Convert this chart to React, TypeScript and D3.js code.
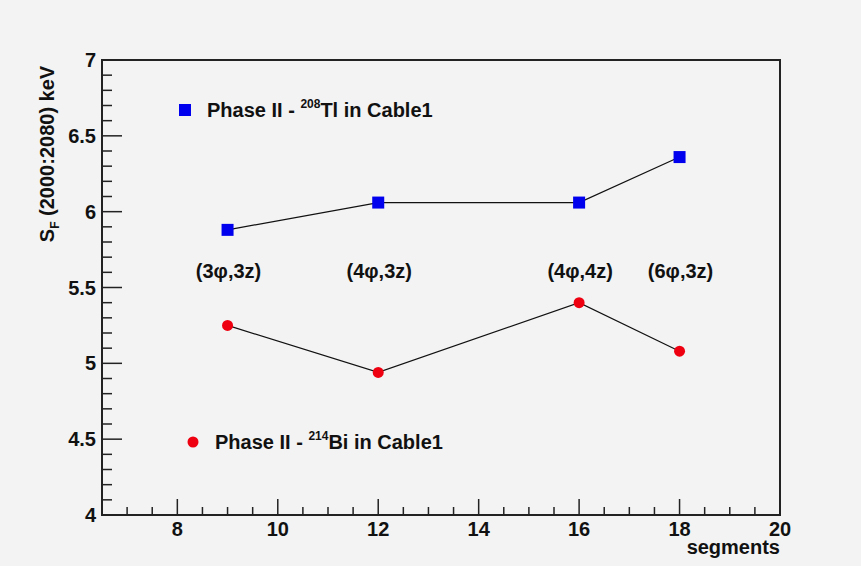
import React, { useRef, useEffect } from "react";
import * as d3 from "d3";

const segments = [9, 12, 16, 18];
const tlValues = [5.88, 6.06, 6.06, 6.36];
const biValues = [5.25, 4.94, 5.4, 5.08];
const configLabels = ["(3φ,3z)", "(4φ,3z)", "(4φ,4z)", "(6φ,3z)"];
const labelLevel = 5.6;
const xTicks = [8, 10, 12, 14, 16, 18, 20];
const yTicks = [4, 4.5, 5, 5.5, 6, 6.5, 7];

const App = () => {
  const ref = useRef<SVGSVGElement>(null);

  useEffect(() => {
    const width = 861;
    const height = 566;
    const font = "'Liberation Sans', Arial, sans-serif";
    const fs = "20px";
    const svg = d3.select(ref.current);
    svg.selectAll("*").remove();
    svg.attr("width", width).attr("height", height);

    svg.append("rect").attr("width", width).attr("height", height).attr("fill", "#f3f3f3");

    const x = d3.scaleLinear().domain([6.5, 20]).range([102, 780]);
    const y = d3.scaleLinear().domain([4, 7]).range([515, 60]);

    // frame
    svg
      .append("rect")
      .attr("x", x(6.5))
      .attr("y", y(7))
      .attr("width", x(20) - x(6.5))
      .attr("height", y(4) - y(7))
      .attr("fill", "none")
      .attr("stroke", "#222")
      .attr("stroke-width", 2);

    // x ticks
    const xMinor = d3.range(7, 20.01, 0.5);
    svg
      .append("g")
      .selectAll("line")
      .data(xMinor)
      .enter()
      .append("line")
      .attr("x1", (d) => x(d))
      .attr("x2", (d) => x(d))
      .attr("y1", y(4))
      .attr("y2", (d) => (d % 2 === 0 ? y(4) - 16 : y(4) - 8))
      .attr("stroke", "#222")
      .attr("stroke-width", 1.5);

    svg
      .append("g")
      .selectAll("text")
      .data(xTicks)
      .enter()
      .append("text")
      .attr("x", (d) => x(d))
      .attr("y", y(4) + 21)
      .attr("text-anchor", "middle")
      .style("font-family", font)
      .style("font-weight", "bold")
      .style("font-size", fs)
      .attr("fill", "#111")
      .text((d) => d);

    svg
      .append("text")
      .attr("x", x(20))
      .attr("y", y(4) + 39)
      .attr("text-anchor", "end")
      .style("font-family", font)
      .style("font-weight", "bold")
      .style("font-size", fs)
      .attr("fill", "#111")
      .text("segments");

    // y ticks
    const yMinor = d3.range(40, 70.1, 1).map((d) => d / 10);
    svg
      .append("g")
      .selectAll("line")
      .data(yMinor)
      .enter()
      .append("line")
      .attr("x1", x(6.5))
      .attr("x2", (d, i) => (i % 5 === 0 ? x(6.5) + 20 : x(6.5) + 10))
      .attr("y1", (d) => y(d))
      .attr("y2", (d) => y(d))
      .attr("stroke", "#222")
      .attr("stroke-width", 1.5);

    svg
      .append("g")
      .selectAll("text")
      .data(yTicks)
      .enter()
      .append("text")
      .attr("x", x(6.5) - 6)
      .attr("y", (d) => y(d) + 7)
      .attr("text-anchor", "end")
      .style("font-family", font)
      .style("font-weight", "bold")
      .style("font-size", fs)
      .attr("fill", "#111")
      .text((d) => d);

    // y label
    const yl = svg
      .append("text")
      .attr("transform", `translate(54, 154) rotate(-90)`)
      .attr("text-anchor", "middle")
      .style("font-family", font)
      .style("font-weight", "bold")
      .style("font-size", fs)
      .attr("fill", "#111");
    yl.append("tspan").text("S");
    yl.append("tspan").attr("dy", 5).style("font-size", "12px").text("F");
    yl.append("tspan").attr("dy", -5).text(" (2000:2080) keV");

    const line = d3
      .line<number>()
      .x((d, i) => x(segments[i]))
      .y((d) => y(d));

    svg.append("path").attr("d", line(tlValues)).attr("fill", "none").attr("stroke", "#111").attr("stroke-width", 1.2);
    svg.append("path").attr("d", line(biValues)).attr("fill", "none").attr("stroke", "#111").attr("stroke-width", 1.2);

    svg
      .append("g")
      .selectAll("rect")
      .data(tlValues)
      .enter()
      .append("rect")
      .attr("x", (d, i) => x(segments[i]) - 6)
      .attr("y", (d) => y(d) - 6)
      .attr("width", 12)
      .attr("height", 12)
      .attr("fill", "#0000ee");

    svg
      .append("g")
      .selectAll("circle")
      .data(biValues)
      .enter()
      .append("circle")
      .attr("cx", (d, i) => x(segments[i]))
      .attr("cy", (d) => y(d))
      .attr("r", 5.5)
      .attr("fill", "#ee0011");

    // configuration labels
    svg
      .append("g")
      .selectAll("text")
      .data(configLabels)
      .enter()
      .append("text")
      .attr("x", (d, i) => x(segments[i]) + 1)
      .attr("y", y(labelLevel) + 6)
      .attr("text-anchor", "middle")
      .style("font-family", font)
      .style("font-weight", "bold")
      .style("font-size", fs)
      .attr("fill", "#111")
      .text((d) => d);

    // legends
    svg.append("rect").attr("x", 179).attr("y", 104).attr("width", 12).attr("height", 12).attr("fill", "#0000ee");
    const l1 = svg
      .append("text")
      .attr("x", 207)
      .attr("y", 117)
      .style("font-family", font)
      .style("font-weight", "bold")
      .style("font-size", fs)
      .attr("fill", "#111");
    l1.append("tspan").text("Phase II - ");
    l1.append("tspan").attr("dy", -9).style("font-size", "12px").text("208");
    l1.append("tspan").attr("dy", 9).text("Tl in Cable1");

    svg.append("circle").attr("cx", 193).attr("cy", 442).attr("r", 5.5).attr("fill", "#ee0011");
    const l2 = svg
      .append("text")
      .attr("x", 215)
      .attr("y", 449)
      .style("font-family", font)
      .style("font-weight", "bold")
      .style("font-size", fs)
      .attr("fill", "#111");
    l2.append("tspan").text("Phase II - ");
    l2.append("tspan").attr("dy", -9).style("font-size", "12px").text("214");
    l2.append("tspan").attr("dy", 9).text("Bi in Cable1");
  }, []);

  return (
    <svg ref={ref} style={{ position: "absolute", left: 0, top: 0, display: "block" }}></svg>
  );
};

export default App;
